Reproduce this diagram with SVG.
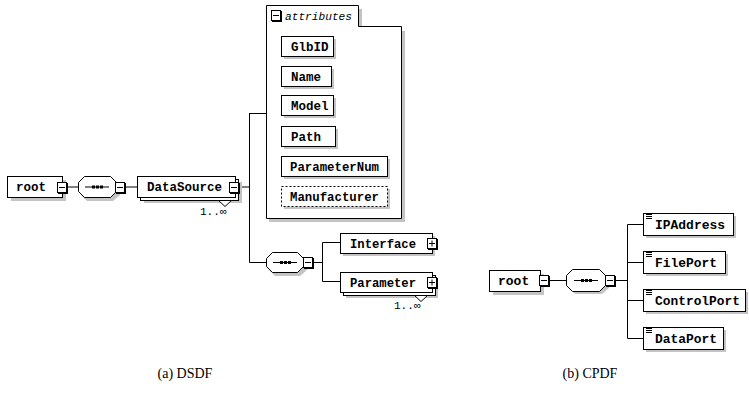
<svg xmlns="http://www.w3.org/2000/svg" width="749" height="401" viewBox="0 0 749 401">
  <style>
    .box { fill:#fff; stroke:#000; stroke-width:1; }
    .dash { fill:#fff; stroke:#000; stroke-width:1; stroke-dasharray:2 2; }
    .sh { fill:#c4c4c4; }
    .ln { fill:none; stroke:#000; stroke-width:1; }
    .lbl { font-family:"Liberation Mono", "DejaVu Sans Mono", monospace; font-weight:bold; font-size:12.5px; fill:#000; }
    .lbl2 { font-family:"Liberation Mono", "DejaVu Sans Mono", monospace; font-weight:bold; font-size:13px; fill:#000; }
    .occ { font-family:"Liberation Mono", monospace; font-size:11px; fill:#000; }
    .grp { font-family:"Liberation Mono", monospace; font-style:italic; font-size:11px; fill:#000; }
    .cap { font-family:"Liberation Serif", "Times New Roman", serif; font-size:14px; fill:#000; }
  </style>
  <defs>
    <!-- collapse / expand buttons -->
    <g id="minus">
      <rect x="1" y="1" width="10" height="11" fill="#000"/>
      <rect x="0.5" y="0.5" width="9" height="10" class="box"/>
      <path d="M2 5.5h6" class="ln"/>
    </g>
    <g id="plus">
      <rect x="1" y="1" width="10" height="11" fill="#000"/>
      <rect x="0.5" y="0.5" width="9" height="10" class="box"/>
      <path d="M2 5.5h6M5 2.5v6" class="ln"/>
    </g>
    <!-- sequence compositor symbol -->
    <g id="seqmark">
      <path d="M0 0.5h24" class="ln"/>
      <rect x="7" y="-1" width="3" height="3" fill="#000"/>
      <rect x="11" y="-1" width="3" height="3" fill="#000"/>
      <rect x="15" y="-1" width="3" height="3" fill="#000"/>
    </g>
    <!-- simple-content icon -->
    <g id="txt">
      <path d="M0 0.5h6M0 2.5h6M0 4.5h6" class="ln"/>
    </g>
  </defs>

  <!-- connectors -->
  <g id="connectors">
    <path d="M67 187H78M126 187H137M240 187H249.5M249.5 113V262.5M249.5 113.5H266M249.5 262.5H266M313 262.5H322.5M322.5 242.5V281.5M322.5 242.5H340M322.5 281.5H340" class="ln"/>
    <path d="M549 280.5H566M616 280.5H627.5M627.5 224.5V338.5M627.5 224.5H643M627.5 262.5H643M627.5 300.5H643M627.5 338.5H643" class="ln"/>
  </g>

  <!-- (a) DSDF -->
  <g id="root-a">
    <rect x="11" y="180" width="55" height="21" class="sh"/>
    <rect x="7.5" y="176.5" width="55" height="21" class="box"/>
    <text x="16" y="191" class="lbl">root</text>
    <use href="#minus" x="57" y="182"/>
  </g>

  <g id="seq-a1">
    <polygon points="87,180 113,180 120,187 120,195 113,201 87,201 81,195 81,187" class="sh"/>
    <polygon points="84.5,176.5 110.5,176.5 116.5,182.5 116.5,191.5 110.5,197.5 84.5,197.5 78.5,191.5 78.5,182.5" class="box"/>
    <use href="#seqmark" x="85" y="186.5"/>
    <use href="#minus" x="115" y="182"/>
  </g>

  <g id="DataSource">
    <rect x="144" y="182" width="98" height="21" class="sh"/>
    <rect x="140.5" y="179.5" width="98" height="21" class="box"/>
    <rect x="137.5" y="176.5" width="98" height="21" class="box"/>
    <text x="147" y="191" class="lbl" textLength="75" lengthAdjust="spacingAndGlyphs">DataSource</text>
    <use href="#minus" x="229" y="182"/>
    <polygon points="218.5,200.5 231.5,200.5 225,206.5" class="box"/>
    <text x="200" y="215" class="occ">1..∞</text>
  </g>

  <g id="attributes">
    <path d="M269 222H405V31H362V9H269Z" class="sh"/>
    <path d="M266.5 218.5H401.5V26.5H358.5V5.5H266.5Z" class="box"/>
    <use href="#minus" x="271" y="10"/>
    <text x="285" y="20" class="grp" textLength="67" lengthAdjust="spacingAndGlyphs">attributes</text>

    <g id="GlbID">
      <rect x="284" y="39" width="52" height="20" class="sh"/>
      <rect x="281.5" y="36.5" width="52" height="20" class="box"/>
      <text x="291" y="51" class="lbl">GlbID</text>
    </g>
    <g id="Name">
      <rect x="284" y="69" width="50" height="20" class="sh"/>
      <rect x="281.5" y="66.5" width="50" height="20" class="box"/>
      <text x="291" y="81" class="lbl">Name</text>
    </g>
    <g id="Model">
      <rect x="284" y="98" width="52" height="20" class="sh"/>
      <rect x="281.5" y="95.5" width="52" height="20" class="box"/>
      <text x="291" y="110" class="lbl">Model</text>
    </g>
    <g id="Path">
      <rect x="284" y="129" width="54" height="20" class="sh"/>
      <rect x="281.5" y="126.5" width="54" height="20" class="box"/>
      <text x="291" y="141" class="lbl">Path</text>
    </g>
    <g id="ParameterNum">
      <rect x="284" y="159" width="106" height="20" class="sh"/>
      <rect x="281.5" y="156.5" width="106" height="20" class="box"/>
      <text x="290" y="171" class="lbl" textLength="89" lengthAdjust="spacingAndGlyphs">ParameterNum</text>
    </g>
    <g id="Manufacturer">
      <rect x="284" y="189" width="106" height="20" class="sh"/>
      <rect x="281.5" y="186.5" width="106" height="20" class="dash"/>
      <text x="290" y="201" class="lbl" textLength="89" lengthAdjust="spacingAndGlyphs">Manufacturer</text>
    </g>
  </g>

  <g id="seq-a2">
    <polygon points="275,256 300,256 307,262 307,270 300,276 275,276 269,270 269,262" class="sh"/>
    <polygon points="272.5,252.5 297.5,252.5 303.5,258.5 303.5,266.5 297.5,272.5 272.5,272.5 266.5,266.5 266.5,258.5" class="box"/>
    <use href="#seqmark" x="273" y="262"/>
    <use href="#minus" x="303" y="257"/>
  </g>

  <g id="Interface">
    <rect x="343" y="236" width="92" height="20" class="sh"/>
    <rect x="340.5" y="233.5" width="92" height="20" class="box"/>
    <text x="350" y="248" class="lbl" textLength="66" lengthAdjust="spacingAndGlyphs">Interface</text>
    <use href="#plus" x="427" y="238"/>
  </g>

  <g id="Parameter">
    <rect x="346" y="278" width="92" height="20" class="sh"/>
    <rect x="343.5" y="275.5" width="92" height="20" class="box"/>
    <rect x="340.5" y="272.5" width="92" height="20" class="box"/>
    <text x="350" y="287" class="lbl" textLength="66" lengthAdjust="spacingAndGlyphs">Parameter</text>
    <use href="#plus" x="427" y="277"/>
    <polygon points="414.5,295.5 427.5,295.5 421,301.5" class="box"/>
    <text x="394" y="309" class="occ">1..∞</text>
  </g>

  <text x="185" y="378" class="cap" text-anchor="middle">(a) DSDF</text>

  <!-- (b) CPDF -->
  <g id="root-b">
    <rect x="493" y="274" width="51" height="21" class="sh"/>
    <rect x="489.5" y="270.5" width="51" height="21" class="box"/>
    <text x="498" y="285" class="lbl2">root</text>
    <use href="#minus" x="539" y="275"/>
  </g>

  <g id="seq-b">
    <polygon points="575,273 602,273 609,280 609,288 602,294 575,294 569,288 569,280" class="sh"/>
    <polygon points="572.5,269.5 599.5,269.5 605.5,275.5 605.5,285.5 599.5,291.5 572.5,291.5 566.5,285.5 566.5,275.5" class="box"/>
    <use href="#seqmark" x="574" y="280"/>
    <use href="#minus" x="605" y="275"/>
  </g>

  <g id="IPAddress">
    <rect x="646" y="216" width="90" height="22" class="sh"/>
    <rect x="643.5" y="213.5" width="90" height="22" class="box"/>
    <use href="#txt" x="646" y="214"/>
    <text x="655" y="229" class="lbl2" textLength="70" lengthAdjust="spacingAndGlyphs">IPAddress</text>
  </g>
  <g id="FilePort">
    <rect x="646" y="254" width="82" height="22" class="sh"/>
    <rect x="643.5" y="251.5" width="82" height="22" class="box"/>
    <use href="#txt" x="646" y="252"/>
    <text x="655" y="267" class="lbl2" textLength="62" lengthAdjust="spacingAndGlyphs">FilePort</text>
  </g>
  <g id="ControlPort">
    <rect x="646" y="292" width="102" height="22" class="sh"/>
    <rect x="643.5" y="289.5" width="102" height="22" class="box"/>
    <use href="#txt" x="646" y="290"/>
    <text x="655" y="305" class="lbl2" textLength="85" lengthAdjust="spacingAndGlyphs">ControlPort</text>
  </g>
  <g id="DataPort">
    <rect x="646" y="330" width="80" height="22" class="sh"/>
    <rect x="643.5" y="327.5" width="80" height="22" class="box"/>
    <use href="#txt" x="646" y="328"/>
    <text x="655" y="343" class="lbl2" textLength="62" lengthAdjust="spacingAndGlyphs">DataPort</text>
  </g>

  <text x="590" y="378" class="cap" text-anchor="middle">(b) CPDF</text>
</svg>
